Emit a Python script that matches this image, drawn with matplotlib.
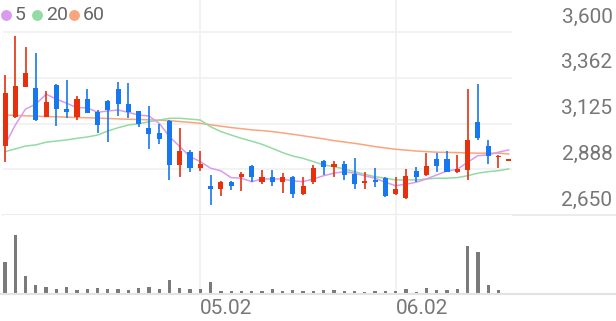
import matplotlib.pyplot as plt

# daily candles, 2025-04-04 .. 2025-06-19 (KRW)
opens = [3010, 3160, 3315, 3308, 3160, 3325, 3200, 3160, 3252, 3183,
         3242, 3304, 3226, 3190, 3100, 3074, 3138, 2910, 2979, 2893,
         2802, 2785, 2823, 2849, 2906, 2823, 2849, 2823, 2849, 2759,
         2823, 2930, 2898, 2913, 2863, 2815, 2830, 2844, 2758, 2740,
         2879, 2858, 2941, 2941, 2875, 2884, 3131, 3010, 2950, 2930]
highs = [3377, 3581, 3520, 3493, 3295, 3330, 3351, 3268, 3303, 3195,
         3245, 3342, 3334, 3192, 3217, 3122, 3145, 3100, 2985, 2982,
         2858, 2825, 2825, 2875, 2910, 2884, 2884, 2867, 2852, 2849,
         2910, 2935, 2930, 2930, 2948, 2875, 2893, 2848, 2849, 2888,
         2901, 2973, 2973, 2982, 2962, 3304, 3330, 3039, 2960, 2939]
lows = [2924, 3155, 3312, 3140, 3158, 3112, 3152, 3143, 3178, 3074,
        3027, 3166, 3152, 3105, 2993, 3019, 2832, 2849, 2875, 2880,
        2702, 2750, 2780, 2776, 2823, 2810, 2802, 2763, 2737, 2755,
        2810, 2858, 2849, 2832, 2785, 2785, 2797, 2745, 2755, 2735,
        2823, 2855, 2872, 2872, 2870, 2832, 3040, 2913, 2893, 2930]
closes = [3282, 3318, 3389, 3143, 3238, 3199, 3186, 3252, 3181, 3117,
          3195, 3225, 3186, 3122, 3069, 3045, 2910, 2982, 2893, 2913,
          2785, 2823, 2802, 2863, 2849, 2849, 2823, 2849, 2758, 2802,
          2896, 2901, 2913, 2858, 2810, 2827, 2823, 2750, 2784, 2853,
          2849, 2906, 2906, 2875, 2889, 3039, 3048, 2956, 2958, 2939]
volumes = [317, 584, 174, 90, 64, 47, 67, 40, 44, 54,
           44, 50, 40, 60, 64, 47, 134, 57, 44, 47,
           117, 27, 27, 27, 27, 27, 44, 27, 37, 27,
           27, 37, 37, 27, 24, 17, 24, 27, 24, 47,
           20, 57, 37, 37, 44, 474, 414, 84, 40, 2]  # thousand shares

ma5 = [3014, 3117, 3200, 3226, 3277, 3252, 3230, 3207, 3207, 3183,
       3190, 3195, 3183, 3169, 3164, 3126, 3057, 3005, 2953, 2927,
       2893, 2879, 2844, 2841, 2823, 2837, 2837, 2837, 2827, 2823,
       2837, 2854, 2867, 2875, 2867, 2853, 2841, 2820, 2802, 2810,
       2820, 2837, 2858, 2879, 2887, 2924, 2958, 2962, 2976, 2988]
ma20 = [2979, 2993, 3008, 3014, 3028, 3034, 3040, 3048, 3055, 3065,
        3086, 3103, 3117, 3124, 3134, 3143, 3152, 3152, 3148, 3143,
        3108, 3083, 3065, 3048, 3033, 3017, 2996, 2974, 2956, 2944,
        2927, 2910, 2901, 2889, 2875, 2861, 2849, 2841, 2832, 2832,
        2832, 2837, 2841, 2841, 2844, 2854, 2867, 2875, 2880, 2889]
ma60 = [3169, 3167, 3165, 3163, 3161, 3160, 3158, 3156, 3155, 3153,
        3151, 3149, 3147, 3146, 3144, 3142, 3140, 3135, 3131, 3126,
        3118, 3111, 3104, 3098, 3092, 3088, 3083, 3076, 3069, 3061,
        3053, 3045, 3036, 3029, 3022, 3014, 3005, 2998, 2991, 2987,
        2982, 2979, 2976, 2975, 2974, 2972, 2971, 2971, 2971, 2967]

ma_periods = [5, 20, 60]
ma_colors = ["#D99BEE", "#93DBA3", "#F8A67E"]

price_ticks = [2650, 2887.5, 3125, 3362.5, 3600]
price_labels = ["2,650", "2,888", "3,125", "3,362", "3,600"]
date_ticks = [19, 38]
date_labels = ["05.02", "06.02"]

UP = "#E6300E"
DOWN = "#1677F0"
TXT = "#777777"
GRID = "#F0F0F0"

plt.rcParams['font.family'] = ['Roboto', 'DejaVu Sans']

W, H = 616, 321
fig = plt.figure(figsize=(W / 100, H / 100), dpi=100)


def rect(left, top, right, bottom):
    return [left / W, 1 - bottom / H, (right - left) / W, (bottom - top) / H]


ax = fig.add_axes(rect(3, 0, 512, 215))
axv = fig.add_axes(rect(3, 215, 512, 293.7), sharex=ax)

n = len(closes)
xs = list(range(n))
step = 10.28
ax.set_xlim((3 - 5) / step, (512 - 5) / step)
ppx = 950 / 183
ax.set_ylim(2650, 3600 + 32 * ppx)

for a in (ax, axv):
    for s in a.spines.values():
        s.set_visible(False)
    a.set_xticks([])
    a.set_yticks([])

# grid
for p in price_ticks[1:]:
    ax.axhline(p, color=GRID, lw=1.2, zorder=0)
ax.axhline(2650, xmax=613 / 509, color="#E8E8E8", lw=1.2, clip_on=False, zorder=0)
for t in date_ticks:
    ax.axvline(t, color=GRID, lw=1.2, zorder=0)
    axv.axvline(t, color=GRID, lw=1.2, zorder=0)

# moving averages
for vals, c in zip([ma60, ma20, ma5], ma_colors[::-1]):
    ax.plot(xs, vals, color=c, lw=1.1, zorder=1)

# candles
for i in xs:
    o, h, l, c = opens[i], highs[i], lows[i], closes[i]
    col = UP if c >= o else DOWN
    ax.vlines(i, l, h, color=col, lw=1.2, zorder=2)
    lo = min(o, c)
    hgt = max(abs(c - o), 7)
    ax.bar(i, hgt, bottom=lo, width=0.5, color=col, zorder=3)

# volume
axv.bar(xs, volumes, width=0.32, color="#7A7A7A")
axv.set_ylim(0, max(volumes) * 78.7 / 58.4)
axv.axhline(0, xmin=-3 / 509, xmax=613 / 509, color="#E3E3E3", lw=1.5, clip_on=False)

# price labels
for p, lab in zip(price_ticks, price_labels):
    ax.annotate(lab, xy=(1, p), xycoords=('axes fraction', 'data'),
                xytext=(100.5, 15), textcoords='offset pixels',
                ha='right', va='center', fontsize=15, color=TXT)

# date labels
for t, lab in zip(date_ticks, date_labels):
    axv.annotate(lab, xy=(t, 0), xycoords=('data', 'axes fraction'),
                 xytext=(0, -14.5), textcoords='offset pixels',
                 ha='left', va='center', fontsize=15, color=TXT)

# legend
dot_x = [6, 37, 74]
txt_x = [15, 46.5, 83]
for per, c, dx, tx in zip(ma_periods, ma_colors, dot_x, txt_x):
    fig.lines.append(plt.Line2D([dx / W], [1 - 15 / H], marker='o', ms=6.8,
                                color=c, transform=fig.transFigure))
    fig.text(tx / W, 1 - 15 / H, str(per), ha='left', va='center',
             fontsize=14, color="#666666")

fig.savefig("out.png", dpi=100)
plt.close()
